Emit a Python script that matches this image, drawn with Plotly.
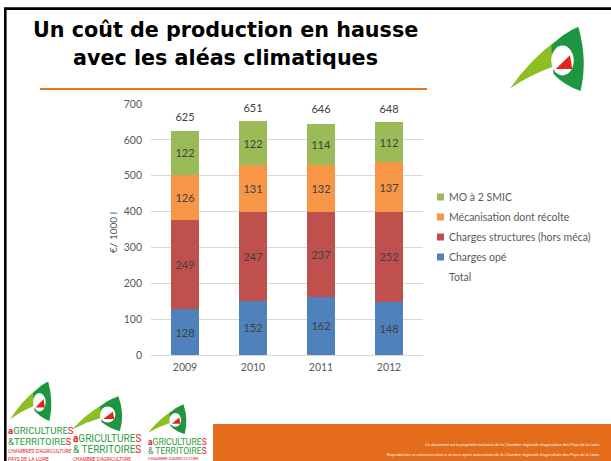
import plotly.graph_objects as go

# ---------------- data ----------------
years = ["2009", "2010", "2011", "2012"]
charges_ope = [128, 152, 162, 148]
charges_structures = [249, 247, 237, 252]
mecanisation = [126, 131, 132, 137]
mo_2_smic = [122, 122, 114, 112]
totals = [625, 651, 646, 648]

series_names = ["Charges opé", "Charges structures (hors méca)",
                "Mécanisation dont récolte", "MO à 2 SMIC"]
series_values = [charges_ope, charges_structures, mecanisation, mo_2_smic]
series_colors = ["#4F81BD", "#C0504D", "#F79646", "#9BBB59"]
legend_labels = ["MO à 2 SMIC", "Mécanisation dont récolte",
                 "Charges structures (hors méca)", "Charges opé", "Total"]
legend_colors = ["#9BBB59", "#F79646", "#C0504D", "#4F81BD", None]

title_line1 = "Un coût de production en hausse"
title_line2 = "avec les aléas climatiques"
y_title = "€/ 1000 l"
footer1 = "Ce document est la propriété exclusive de la Chambre régionale d'agriculture des Pays de la Loire."
footer2 = "Reproduction et communication à un tiers après autorisation de la Chambre régionale d'agriculture des Pays de la Loire."

# ---------------- layout geometry (pixels) ----------------
W, H = 611, 461
L, R, T, B = 151, 188, 104, 106
PW, PH = W - L - R, H - T - B
FONT = "Lato, Open Sans, sans-serif"
GREY = "#595959"


def X(px):
    return (px - L) / PW


def Y(py):
    return (H - B - py) / PH


def path(cmds):
    out = []
    for c in cmds:
        op = c[0]
        pts = c[1:]
        out.append(op + " ".join("%.5f,%.5f" % (X(p[0]), Y(p[1])) for p in pts))
    return " ".join(out)


fig = go.Figure()
for name, vals, col in zip(series_names, series_values, series_colors):
    fig.add_trace(go.Bar(
        x=years, y=vals, name=name, marker=dict(color=col, line=dict(width=0)),
        width=0.4, text=[str(v) for v in vals], textposition="inside",
        insidetextanchor="middle", textangle=0,
        textfont=dict(family=FONT, size=11, color="#404040"),
        constraintext="none", showlegend=False, hoverinfo="skip"))

fig.add_trace(go.Scatter(
    x=years, y=totals, mode="markers+text", text=[str(v) for v in totals],
    marker=dict(size=10, opacity=0),
    textposition="top center", textfont=dict(family=FONT, size=11, color="#404040"),
    showlegend=False, hoverinfo="skip"))

shapes = []
annotations = []

# slide frame (top and left edges visible)
shapes.append(dict(type="path", xref="paper", yref="paper",
                   path=path([("M", (5.3, 470)), ("L", (5.3, 8.6)), ("L", (620, 8.6))]),
                   line=dict(color="black", width=2.6)))
# orange rule under the title
shapes.append(dict(type="line", xref="paper", yref="paper", x0=X(40), x1=X(427), y0=Y(89), y1=Y(89),
                   line=dict(color="#E8761E", width=2)))
# footer band
shapes.append(dict(type="rect", xref="paper", yref="paper", x0=X(213), x1=X(611), y0=Y(424), y1=Y(461),
                   fillcolor="#E46C1A", line=dict(width=0)))

# logos (normalised swoosh geometry mapped into pixel boxes)
BLADE = [("M", (0, 0.96)), ("Q", (0.27, 0.52), (0.6, 0.24)), ("L", (0.56, 0.63)),
         ("Q", (0.27, 0.75), (0, 0.96)), ("Z",)]
DARK = [("M", (0.91, 0.01)), ("Q", (1.04, 0.52), (0.94, 1.0)), ("Q", (0.74, 0.93), (0.58, 0.74)),
        ("L", (0.55, 0.3)), ("Q", (0.71, 0.11), (0.91, 0.01)), ("Z",)]
RED_TRI = [("M", (0.61, 0.66)), ("L", (0.8, 0.45)), ("L", (0.83, 0.66)), ("Z",)]


def logo(x0, y0, w, h):
    def m(cmds):
        res = []
        for c in cmds:
            res.append((c[0],) + tuple((x0 + p[0] * w, y0 + p[1] * h) for p in c[1:]))
        return path(res)
    shapes.append(dict(type="path", xref="paper", yref="paper", path=m(BLADE),
                       fillcolor="#8DBE22", line=dict(width=0)))
    shapes.append(dict(type="path", xref="paper", yref="paper", path=m(DARK),
                       fillcolor="#1E9641", line=dict(width=0)))
    shapes.append(dict(type="circle", xref="paper", yref="paper",
                       x0=X(x0 + 0.55 * w), x1=X(x0 + 0.85 * w), y0=Y(y0 + 0.3 * h), y1=Y(y0 + 0.76 * h),
                       fillcolor="white", line=dict(width=0)))
    shapes.append(dict(type="path", xref="paper", yref="paper", path=m(RED_TRI),
                       fillcolor="#E2231A", line=dict(width=0)))


logo(510, 26, 75, 65)
logo(10, 381, 42, 40)
logo(72, 396, 51, 35)
logo(148, 404, 39, 30)

RED, GREEN = "#E2231A", "#2E9B3E"


def logo_text(x, ys, sizes, amp, lines):
    txts = [
        "<span style='color:%s'><b>a</b></span>GRICULTURE<span style='color:%s'>S</span>" % (RED, RED),
        amp + "TERRITOIRE<span style='color:%s'>S</span>" % RED,
    ] + lines
    cols = [GREEN, GREEN] + [RED] * len(lines)
    for t, yy, s, c in zip(txts, ys, sizes, cols):
        annotations.append(dict(xref="paper", yref="paper", x=X(x), y=Y(yy), text=t, showarrow=False,
                                xanchor="left", yanchor="middle",
                                font=dict(family="Roboto, sans-serif", size=s, color=c)))


logo_text(6, [430, 441, 451, 459], [9.6, 9.6, 5, 5], "&amp;", ["CHAMBRES D'AGRICULTURE", "PAYS DE LA LOIRE"])
logo_text(71, [438, 449.5, 459], [10, 10, 4.8], "&amp; ", ["CHAMBRE D'AGRICULTURE"])
logo_text(146, [442, 451, 458], [8.6, 8.6, 4.2], "&amp; ", ["CHAMBRE D'AGRICULTURE"])

# title
annotations.append(dict(xref="paper", yref="paper", x=X(225), y=Y(30), text="<b>%s</b>" % title_line1,
                        showarrow=False, xanchor="center", yanchor="middle",
                        font=dict(family="DejaVu Sans", size=20.7, color="black")))
annotations.append(dict(xref="paper", yref="paper", x=X(225), y=Y(58), text="<b>%s</b>" % title_line2,
                        showarrow=False, xanchor="center", yanchor="middle",
                        font=dict(family="DejaVu Sans", size=20.7, color="black")))

# y axis title
annotations.append(dict(xref="paper", yref="paper", x=X(113), y=Y(233), text=y_title, textangle=-90,
                        showarrow=False, xanchor="center", yanchor="middle",
                        font=dict(family=FONT, size=10, color=GREY)))

# manual legend
for i, (lab, col) in enumerate(zip(legend_labels, legend_colors)):
    yy = 197 + i * 20
    if col:
        shapes.append(dict(type="rect", xref="paper", yref="paper", x0=X(437), x1=X(444),
                           y0=Y(yy - 3.5), y1=Y(yy + 3.5), fillcolor=col, line=dict(width=0)))
    annotations.append(dict(xref="paper", yref="paper", x=X(446.5), y=Y(yy), text=lab, showarrow=False,
                            xanchor="left", yanchor="middle", font=dict(family=FONT, size=10.5, color=GREY)))

# footer text
for yy, t in [(444, footer1), (454, footer2)]:
    annotations.append(dict(xref="paper", yref="paper", x=X(602), y=Y(yy), text=t, showarrow=False,
                            xanchor="right", yanchor="middle",
                            font=dict(family="Liberation Sans", size=4, color="white")))

fig.update_layout(
    width=W, height=H, margin=dict(l=L, r=R, t=T, b=B, autoexpand=False),
    paper_bgcolor="white", plot_bgcolor="white",
    barmode="stack", showlegend=False,
    shapes=shapes, annotations=annotations,
    xaxis=dict(type="category", range=[-0.5, 3.5], showgrid=False, showline=False, ticks="",
               tickfont=dict(family=FONT, size=10.5, color=GREY), ticklabelstandoff=4, fixedrange=True),
    yaxis=dict(range=[0, 700], dtick=100, showgrid=True, gridcolor="#D9D9D9", gridwidth=1,
               zeroline=True, zerolinecolor="#D9D9D9", zerolinewidth=1, showline=False, ticks="",
               tickfont=dict(family=FONT, size=10.5, color=GREY), ticklabelstandoff=8, fixedrange=True),
)

fig.write_html("out.html", config={"displayModeBar": False},
               post_script="document.body.style.margin='0';document.body.style.overflow='hidden';")
